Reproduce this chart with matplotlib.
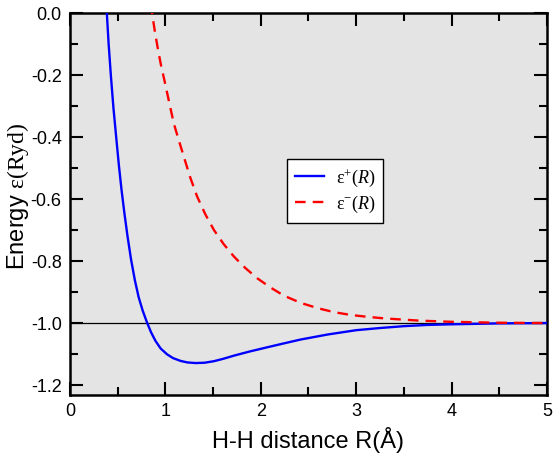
import matplotlib
matplotlib.use("Agg")
import matplotlib.pyplot as plt
from matplotlib.ticker import MultipleLocator, FormatStrFormatter

# bonding curve eps+(R)
r_plus = [0.370, 0.386, 0.405, 0.428, 0.455, 0.484, 0.512, 0.540, 0.570, 0.603,
          0.640, 0.680, 0.720, 0.762, 0.807, 0.850, 0.895, 0.950, 1.018, 1.080,
          1.158, 1.230, 1.316, 1.410, 1.509, 1.610, 1.720, 1.880, 2.070, 2.250,
          2.420, 2.700, 3.000, 3.250, 3.500, 3.750, 4.000, 4.500, 5.000]
e_plus = [0.080, 0.000, -0.100, -0.200, -0.305, -0.400, -0.490, -0.570, -0.645, -0.720,
          -0.795, -0.862, -0.917, -0.960, -0.998, -1.030, -1.057, -1.082, -1.101, -1.113,
          -1.122, -1.127, -1.129, -1.128, -1.123, -1.115, -1.105, -1.092, -1.078, -1.065,
          -1.053, -1.037, -1.023, -1.016, -1.010, -1.006, -1.004, -1.001, -1.000]

# antibonding curve eps-(R)
r_minus = [0.845, 0.860, 0.890, 0.923, 0.955, 0.989, 1.046, 1.088, 1.140, 1.193,
           1.260, 1.333, 1.420, 1.509, 1.610, 1.720, 1.840, 1.965, 2.100, 2.245,
           2.420, 2.597, 2.770, 2.947, 3.120, 3.298, 3.650, 4.000, 4.500, 5.000]
e_minus = [0.030, 0.000, -0.060, -0.119, -0.170, -0.216, -0.297, -0.356, -0.410, -0.463,
           -0.530, -0.592, -0.650, -0.700, -0.745, -0.786, -0.823, -0.856, -0.885, -0.912,
           -0.935, -0.952, -0.965, -0.974, -0.980, -0.985, -0.992, -0.996, -0.999, -1.000]

plt.rcParams["font.family"] = "Liberation Sans"
plt.rcParams["axes.unicode_minus"] = False
plt.rcParams["mathtext.fontset"] = "custom"
plt.rcParams["mathtext.rm"] = "Liberation Serif"
plt.rcParams["mathtext.it"] = "Liberation Serif:italic"

fig = plt.figure(figsize=(5.53, 4.63), dpi=100)
ax = fig.add_axes([0.1266, 0.1469, 0.8624, 0.825])
ax.set_facecolor("#e4e4e4")

ax.axhline(-1.0, color="black", lw=0.9, zorder=1)
ax.plot(r_plus, e_plus, color="#0000ff", lw=1.7, label=r"$\mathrm{\varepsilon}^{+}\mathit{(R)}$", zorder=3)
ax.plot(r_minus, e_minus, color="#ff0000", lw=1.7, ls=(0, (4.5, 3)),
        label=r"$\mathrm{\varepsilon}^{-}\mathit{(R)}$", zorder=3)

ax.set_xlim(0, 5)
ax.set_ylim(-1.232, 0)
ax.xaxis.set_major_locator(MultipleLocator(1))
ax.xaxis.set_minor_locator(MultipleLocator(0.5))
ax.yaxis.set_major_locator(MultipleLocator(0.2))
ax.yaxis.set_minor_locator(MultipleLocator(0.1))
ax.yaxis.set_major_formatter(FormatStrFormatter("%.1f"))
ax.tick_params(which="both", direction="in", top=True, right=True, width=1.5, labelsize=13)
ax.tick_params(which="major", length=9.5, pad=6)
ax.tick_params(which="minor", length=5.5)
for s in ax.spines.values():
    s.set_linewidth(1.8)

ax.set_xlabel("H-H distance R(Å)", fontsize=17, labelpad=5)
ax.set_ylabel(r"Energy $\mathrm{\varepsilon(Ryd)}$", fontsize=17)
ax.yaxis.set_label_coords(-0.082, 0.521)

leg = ax.legend(loc="upper left", bbox_to_anchor=(0.455, 0.618), borderaxespad=0,
                fontsize=13, frameon=True, fancybox=False, edgecolor="black", framealpha=1,
                handlelength=1.6, borderpad=0.45, labelspacing=0.25, handletextpad=0.65)
leg.get_frame().set_linewidth(1.0)

fig.savefig("out.png", dpi=100)
